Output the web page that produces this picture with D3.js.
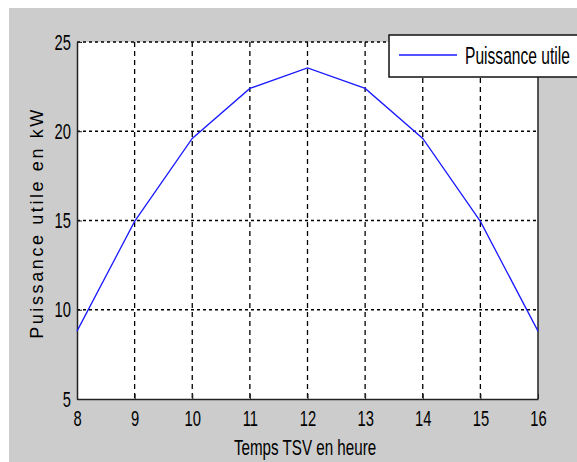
<!DOCTYPE html>
<html>
<head>
<meta charset="utf-8">
<title>Puissance utile</title>
<style>
  body { margin: 0; background: #fff; }
  text { font-family: "Liberation Sans", Arial, sans-serif; fill: #000; }
</style>
</head>
<body>
<div id="chart"></div>
<script src="https://cdn.jsdelivr.net/npm/d3@7"></script>
<script>
// data
var hours = [8, 9, 10, 11, 12, 13, 14, 15, 16];
var puissance = [8.8, 14.95, 19.6, 22.4, 23.55, 22.4, 19.6, 14.95, 8.8];
var xTicks = [8, 9, 10, 11, 12, 13, 14, 15, 16];
var yTicks = [5, 10, 15, 20, 25];
var seriesName = 'Puissance utile';
var xTitle = 'Temps TSV en heure';
var yTitle = 'Puissance utile en kW';

var width = 577, height = 462;
var plot = { left: 77, right: 538, top: 42, bottom: 399 };
var squeeze = 0.67; // narrow MATLAB-like font

var svg = d3.select('#chart').append('svg')
    .attr('width', width)
    .attr('height', height);

// figure background
svg.append('rect')
    .attr('x', 9).attr('y', 8)
    .attr('width', width - 9).attr('height', height - 8)
    .attr('fill', '#cccccc');

var x = d3.scaleLinear().domain([8, 16]).range([plot.left, plot.right]);
var y = d3.scaleLinear().domain([5, 25]).range([plot.bottom, plot.top]);

svg.append('rect')
    .attr('x', plot.left).attr('y', plot.top)
    .attr('width', plot.right - plot.left)
    .attr('height', plot.bottom - plot.top)
    .attr('fill', '#fff');

// grid
svg.append('g').selectAll('line')
    .data(xTicks.slice(1, -1))
    .enter().append('line')
    .attr('x1', function (d) { return x(d); })
    .attr('x2', function (d) { return x(d); })
    .attr('y1', plot.top).attr('y2', plot.bottom)
    .attr('stroke', '#000').attr('stroke-width', 1.3)
    .attr('stroke-dasharray', '5,4');

svg.append('g').selectAll('line')
    .data(yTicks.slice(1))
    .enter().append('line')
    .attr('x1', plot.left).attr('x2', plot.right)
    .attr('y1', function (d) { return y(d); })
    .attr('y2', function (d) { return y(d); })
    .attr('stroke', '#000').attr('stroke-width', 1.5)
    .attr('stroke-dasharray', '3,3');

// right border
svg.append('line')
    .attr('x1', plot.right).attr('x2', plot.right)
    .attr('y1', plot.top).attr('y2', plot.bottom)
    .attr('stroke', '#222').attr('stroke-width', 1.5);

// axes
var xAxis = svg.append('g')
    .attr('transform', 'translate(0,' + plot.bottom + ')')
    .call(d3.axisBottom(x).tickValues(xTicks).tickSize(-5).tickSizeOuter(0).tickFormat(d3.format('d')));

var yAxis = svg.append('g')
    .attr('transform', 'translate(' + plot.left + ',0)')
    .call(d3.axisLeft(y).tickValues(yTicks).tickSize(-5).tickSizeOuter(0).tickFormat(d3.format('d')));

[xAxis, yAxis].forEach(function (ax) {
    ax.select('.domain').attr('stroke', '#222').attr('stroke-width', 1.5);
    ax.selectAll('.tick line').attr('stroke', '#222');
    ax.selectAll('text')
        .attr('font-family', '"Liberation Sans", Arial, sans-serif')
        .attr('font-size', 22)
        .attr('fill', '#111');
});

xAxis.selectAll('text')
    .attr('dy', null)
    .attr('y', 27)
    .attr('transform', 'scale(' + squeeze + ',1)');

yAxis.selectAll('text')
    .attr('x', -6 / squeeze)
    .attr('dy', 7)
    .attr('transform', 'scale(' + squeeze + ',1)');

// series
var line = d3.line()
    .x(function (d, i) { return x(hours[i]); })
    .y(function (d) { return y(d); });

svg.append('path')
    .datum(puissance)
    .attr('d', line)
    .attr('fill', 'none')
    .attr('stroke', '#1a1aff')
    .attr('stroke-width', 1.3);

// titles
svg.append('g')
    .attr('transform', 'translate(305,455)')
    .append('text')
    .attr('text-anchor', 'middle')
    .attr('font-size', 22)
    .attr('fill', '#111')
    .attr('transform', 'scale(0.69,1)')
    .text(xTitle);

svg.append('text')
    .attr('transform', 'translate(43,223) rotate(-90)')
    .attr('text-anchor', 'middle')
    .attr('font-size', 18)
    .attr('letter-spacing', 2.6)
    .attr('fill', '#111')
    .text(yTitle);

// legend
var legend = svg.append('g').attr('transform', 'translate(389,35)');
legend.append('rect')
    .attr('width', 220).attr('height', 42)
    .attr('fill', '#fff')
    .attr('stroke', '#111').attr('stroke-width', 1.5);
legend.append('line')
    .attr('x1', 10).attr('x2', 68)
    .attr('y1', 20).attr('y2', 20)
    .attr('stroke', '#1a1aff').attr('stroke-width', 1.5);
legend.append('g')
    .attr('transform', 'translate(76,29)')
    .append('text')
    .attr('font-size', 24)
    .attr('fill', '#111')
    .attr('transform', 'scale(0.65,1)')
    .text(seriesName);
</script>
</body>
</html>
